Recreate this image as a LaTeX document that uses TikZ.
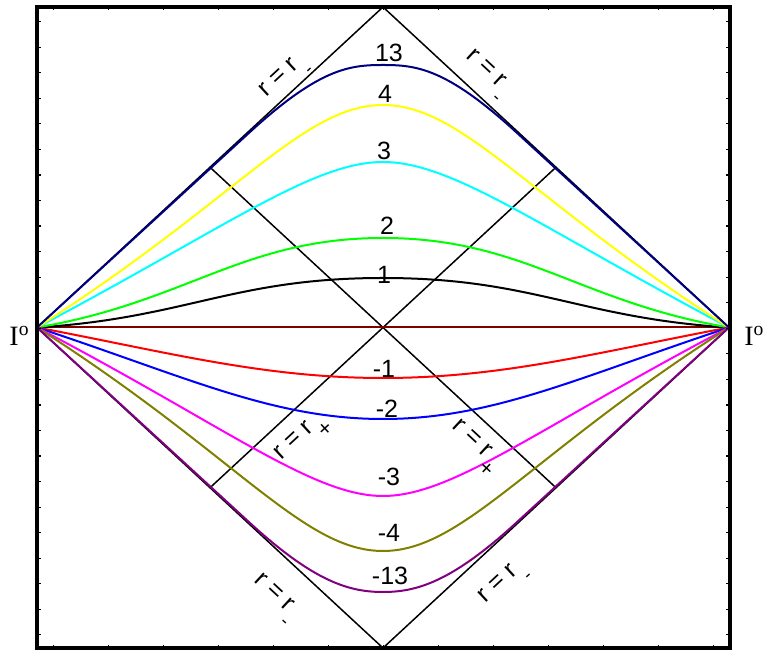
\documentclass[tikz,border=0pt]{standalone}
\usepackage{fontspec}
\setmainfont{Liberation Serif}
\newfontfamily\labelfont{Liberation Sans}
\usetikzlibrary{calc}
\definecolor{navyc}{RGB}{0,0,128}
\definecolor{yellowc}{RGB}{255,255,0}
\definecolor{cyanc}{RGB}{0,255,255}
\definecolor{greenc}{RGB}{0,255,0}
\definecolor{maroonc}{RGB}{128,0,0}
\definecolor{redc}{RGB}{255,0,0}
\definecolor{bluec}{RGB}{0,0,255}
\definecolor{magentac}{RGB}{255,0,255}
\definecolor{olivec}{RGB}{128,128,0}
\definecolor{purplec}{RGB}{128,0,128}
\newcommand{\rsub}[2]{r = r\rlap{\smash{\hspace{1pt}\raisebox{-7pt}{\fontsize{#2}{#2}\selectfont #1}}}}

\begin{document}
\begin{tikzpicture}[
  x=0.5pt, y=-0.5pt,
  edge/.style={black, line width=0.75pt},
  slice/.style={line width=1pt},
  num/.style={font=\labelfont\fontsize{12.5}{14}\selectfont, inner sep=0pt},
  rlab/.style={font=\labelfont\fontsize{12.5}{14}\selectfont, inner sep=0pt},
  io/.style={font=\fontsize{14}{16}\selectfont, inner sep=0pt}
]
  \useasboundingbox (0,0) rectangle (767,651);

  % corners of the diagram
  \coordinate (iL) at (37,327.5);
  \coordinate (iR) at (729,327.5);
  \coordinate (top) at (383,7);
  \coordinate (bot) at (383,648);
  \coordinate (mUL) at ($(iL)!0.5!(top)$);
  \coordinate (mUR) at ($(top)!0.5!(iR)$);
  \coordinate (mLL) at ($(iL)!0.5!(bot)$);
  \coordinate (mLR) at ($(bot)!0.5!(iR)$);

  % horizons
  \draw[edge] (iL) -- (top) -- (iR) -- (bot) -- cycle;
  \draw[edge] (mLL) -- (mUR);
  \draw[edge] (mUL) -- (mLR);

  % slices
  \draw[slice, maroonc] (iL) -- (iR);
  \foreach \col/\ax/\ay/\bx/\py in {black/187/318/233/278, greenc/187/302/243/238,
      cyanc/227/227/313/162, yellowc/237/200/303/105, redc/167/352/263/378,
      bluec/187/377/273/419, magentac/227/427/313/496, olivec/237/455/303/551}
    \draw[slice, \col] (iL) .. controls (\ax,\ay) and (\bx,\py) .. (383,\py)
      .. controls ({766-\bx},\py) and ({766-\ax},\ay) .. (iR);
  \draw[slice, navyc] (iL) -- (250,132) .. controls (320,68) and (350,65) .. (383,65)
    .. controls (416,65) and (446,68) .. (516,132) -- (iR);
  \draw[slice, purplec] (iL) -- (250,523) .. controls (315,582.5) and (350,592) .. (383,592)
    .. controls (416,592) and (451,582.5) .. (516,523) -- (iR);

  % frame
  \draw[line width=2pt] (37,7) rectangle (729.5,648.5);
  \foreach \k in {0,...,24} {
    \draw[line width=0.6pt] (37,{21.7+25.55*\k}) -- ++(3.5,0);
    \draw[line width=0.6pt] (729.5,{21.7+25.55*\k}) -- ++(-3.5,0);
  }
  \foreach \k in {0,...,12} {
    \draw[line width=0.6pt] ({53.3+55*\k},7) -- ++(0,3.5);
    \draw[line width=0.6pt] ({53.3+55*\k},648.5) -- ++(0,-3.5);
  }

  % labels
  \node[num] (n13) at (389,52.5) {13};
  \node[num] (n4) at (385,94) {4};
  \node[num] (n3) at (384,151) {3};
  \node[num] (n2) at (387,226) {2};
  \node[num] (n1) at (384,275) {1};
  \node[num] (m1) at (384,369) {-1};
  \node[num] (m2) at (387,409) {-2};
  \node[num] (m3) at (389,477) {-3};
  \node[num] (m4) at (389,533) {-4};
  \node[num] (m13) at (390,576) {-13};

  \node[rlab, rotate=42.8] (rmUL) at (278,77) {\rsub{-}{9}};
  \node[rlab, rotate=-42.8] (rmUR) at (487,68) {\rsub{-}{9}};
  \node[rlab, rotate=-42.8] (rmLL) at (275,592) {\rsub{-}{9}};
  \node[rlab, rotate=42.8] (rmLR) at (497,583) {\rsub{-}{9}};
  \node[rlab, rotate=42.8] (rpL) at (293,440) {\rsub{+}{11}};
  \node[rlab, rotate=-42.8] (rpR) at (473,438) {\rsub{+}{11}};

  \node[io, anchor=base east] (ioL) at (30,346) {I\textsuperscript{o}};
  \node[io, anchor=base west] (ioR) at (744,346) {I\textsuperscript{o}};
\end{tikzpicture}
\end{document}
